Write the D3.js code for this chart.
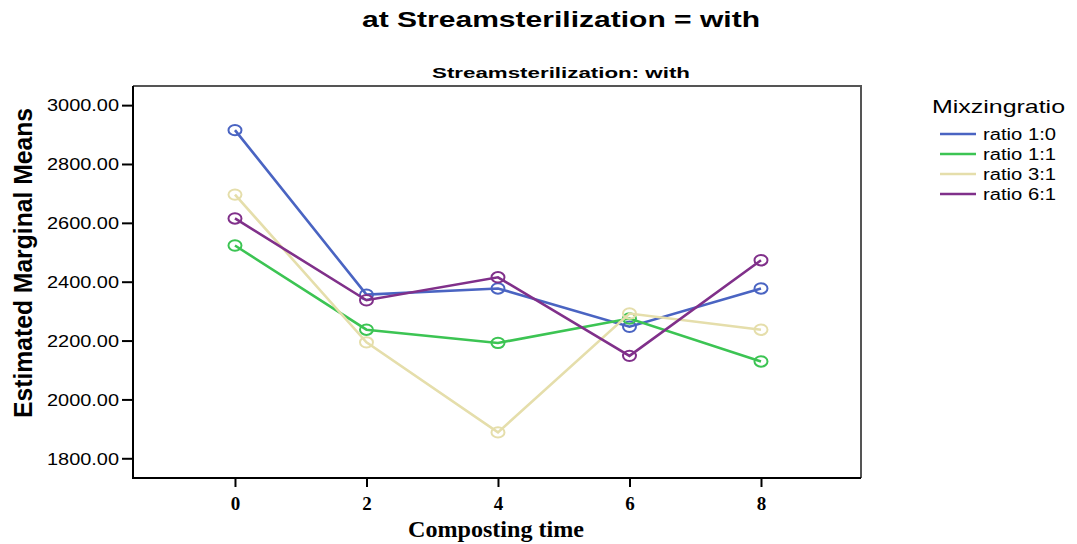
<!DOCTYPE html>
<html><head><meta charset="utf-8">
<script src="https://cdn.jsdelivr.net/npm/d3@7"></script>
<style>body{margin:0;background:#fff}</style>
</head><body>
<svg id="c" width="1077" height="544"></svg>
<script>
const times = [0, 2, 4, 6, 8];
const seriesNames = ["ratio 1:0", "ratio 1:1", "ratio 3:1", "ratio 6:1"];
const ratio10 = [2915, 2356, 2377, 2247, 2377];
const ratio11 = [2523, 2237, 2192, 2275, 2129];
const ratio31 = [2696, 2194, 1888, 2292, 2237];
const ratio61 = [2615, 2337, 2415, 2148, 2473];
const yTicks = [1800, 2000, 2200, 2400, 2600, 2800, 3000];
const colors = ["#4a64c2", "#3cc453", "#e5deab", "#80308a"];
const allSeries = [ratio10, ratio11, ratio31, ratio61];

const svg = d3.select("#c");
const L = 133, R = 861, T = 86, B = 478;
const x = d3.scaleLinear().domain([-1.551, 9.521]).range([L, R]);
const y = d3.scaleLinear().domain([1733, 3065]).range([B, T]);
const sans = "Liberation Sans, Arial, sans-serif";
const serif = "Liberation Serif, Times New Roman, serif";

// titles
svg.append("text").attr("x", 561).attr("y", 27).attr("text-anchor", "middle")
  .attr("font-family", sans).attr("font-weight", "bold")
  .attr("font-size", 22).attr("textLength", 398).attr("lengthAdjust", "spacingAndGlyphs")
  .text("at Streamsterilization = with");
svg.append("text").attr("x", 561).attr("y", 78).attr("text-anchor", "middle")
  .attr("font-family", sans).attr("font-weight", "bold")
  .attr("font-size", 15).attr("textLength", 258).attr("lengthAdjust", "spacingAndGlyphs")
  .text("Streamsterilization: with");

// box top/right
svg.append("path").attr("d", `M${L},${T}H${R}V${B}`).attr("fill", "none")
  .attr("stroke", "#555").attr("stroke-width", 2);

// axes
const yAxis = d3.axisLeft(y).tickValues(yTicks).tickFormat(d3.format(".2f")).tickSize(11).tickSizeOuter(0);
const gy = svg.append("g").attr("transform", `translate(${L},0)`).call(yAxis);
gy.select(".domain").remove();
gy.append("line").attr("x1", 0).attr("x2", 0).attr("y1", T).attr("y2", B + 1).attr("stroke", "#000").attr("stroke-width", 2);
gy.selectAll(".tick line").attr("stroke", "#000").attr("stroke-width", 2);
gy.selectAll(".tick text").attr("font-family", sans).attr("font-size", 16).attr("fill", "#000")
  .attr("x", -14).attr("dy", "0.36em").attr("textLength", 72).attr("lengthAdjust", "spacingAndGlyphs");

const xAxis = d3.axisBottom(x).tickValues(times).tickFormat(d3.format("d")).tickSize(9).tickSizeOuter(0);
const gx = svg.append("g").attr("transform", `translate(0,${B})`).call(xAxis);
gx.select(".domain").remove();
gx.append("line").attr("x1", L - 1).attr("x2", R).attr("y1", 0).attr("y2", 0).attr("stroke", "#000").attr("stroke-width", 2);
gx.selectAll(".tick line").attr("stroke", "#000").attr("stroke-width", 2);
gx.selectAll(".tick text").attr("font-family", serif).attr("font-weight", "bold").attr("font-size", 19).attr("fill", "#000").attr("y", 19).attr("dy", "0.71em");

svg.append("text").attr("x", 496).attr("y", 537).attr("text-anchor", "middle")
  .attr("font-family", serif).attr("font-weight", "bold")
  .attr("font-size", 23).attr("textLength", 176).attr("lengthAdjust", "spacingAndGlyphs")
  .text("Composting time");

svg.append("text").attr("transform", "translate(32,263) rotate(-90)").attr("text-anchor", "middle")
  .attr("font-family", sans).attr("font-weight", "bold")
  .attr("font-size", 25).attr("textLength", 310).attr("lengthAdjust", "spacingAndGlyphs")
  .text("Estimated Marginal Means");

// series
const line = d3.line().x((d, i) => x(times[i])).y(d => y(d));
allSeries.forEach((s, k) => {
  const g = svg.append("g");
  g.append("path").datum(s).attr("d", line).attr("fill", "none")
    .attr("stroke", colors[k]).attr("stroke-width", 2.6);
  g.selectAll("ellipse").data(s).join("ellipse")
    .attr("cx", (d, i) => x(times[i])).attr("cy", d => y(d))
    .attr("rx", 6.5).attr("ry", 5.2).attr("fill", "none")
    .attr("stroke", colors[k]).attr("stroke-width", 2);
});

// legend
svg.append("text").attr("x", 932).attr("y", 113)
  .attr("font-family", sans).attr("font-size", 18.5)
  .attr("textLength", 133).attr("lengthAdjust", "spacingAndGlyphs")
  .text("Mixzingratio");
const rowY = [134, 154, 174, 194];
seriesNames.forEach((n, k) => {
  svg.append("line").attr("x1", 940).attr("x2", 976).attr("y1", rowY[k]).attr("y2", rowY[k])
    .attr("stroke", colors[k]).attr("stroke-width", 2.6);
  svg.append("text").attr("x", 983).attr("y", rowY[k]).attr("dy", "0.36em")
    .attr("font-family", sans).attr("font-size", 16)
    .attr("textLength", 73).attr("lengthAdjust", "spacingAndGlyphs")
    .text(n);
});
</script>
</body></html>
